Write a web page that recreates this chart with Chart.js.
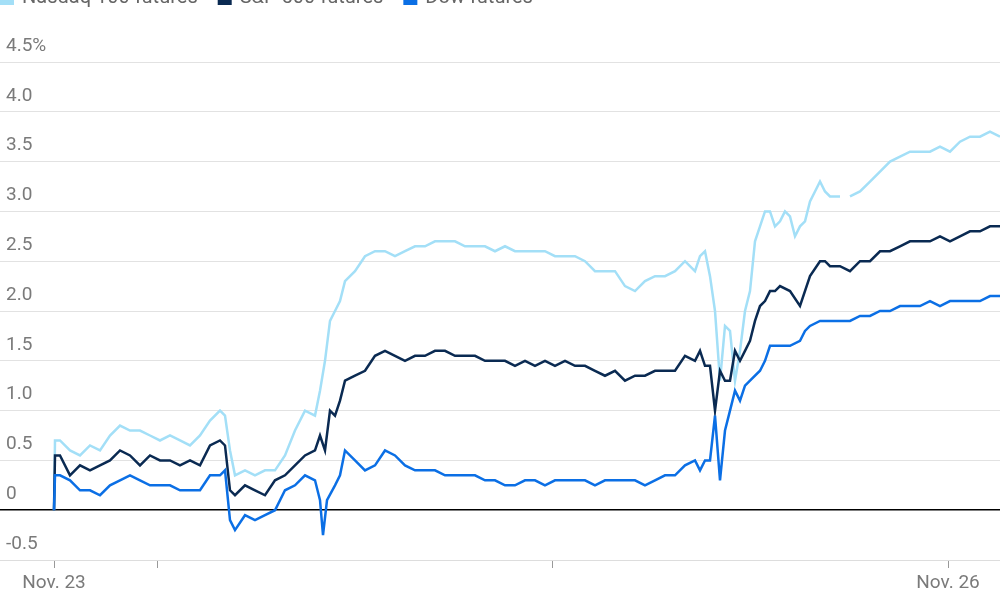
<!DOCTYPE html>
<html><head><meta charset="utf-8">
<script src="https://cdn.jsdelivr.net/npm/chart.js@4"></script>
<style>html,body{margin:0;padding:0;background:#fff}#w{width:1000px;height:600px}</style>
</head><body><div id="w"><canvas id="c"></canvas></div>
<script>
// time index: 0 = Nov. 23 open, 894 = Nov. 26
const xTickValues = [0, 103, 498, 894];
const xTickLabels = ['Nov. 23', '', '', 'Nov. 26'];
const yTickValues = [-0.5,0,0.5,1,1.5,2,2.5,3,3.5,4,4.5];
const seriesNames = ['Nasdaq 100 futures','S&P 500 futures','Dow futures'];

const nasdaqT = [0,1,6,16,26,36,46,56,66,76,86,96,106,116,126,136,146,156,166,171,176,181,191,201,211,221,231,241,251,261,266,271,276,281,286,291,301,311,321,331,341,351,361,371,381,391,401,411,421,431,441,451,461,471,481,491,501,511,521,531,541,551,561,571,581,591,601,611,621,631,641,646,651,656,661,666,671,676,681,686,691,696,701,706,711,716,721,726,731,736,741,746,751,756,761,766,771,776,786,790,796,806,816,826,836,846,856,866,876,886,896,906,916,926,936,946];
const nasdaqV = [0,0.7,0.7,0.6,0.55,0.65,0.6,0.75,0.85,0.8,0.8,0.75,0.7,0.75,0.7,0.65,0.75,0.9,1.0,0.95,0.6,0.35,0.4,0.35,0.4,0.4,0.55,0.8,1.0,0.95,1.2,1.5,1.9,2.0,2.1,2.3,2.4,2.55,2.6,2.6,2.55,2.6,2.65,2.65,2.7,2.7,2.7,2.65,2.65,2.65,2.6,2.65,2.6,2.6,2.6,2.6,2.55,2.55,2.55,2.5,2.4,2.4,2.4,2.25,2.2,2.3,2.35,2.35,2.4,2.5,2.4,2.55,2.6,2.35,2.0,1.3,1.85,1.8,1.3,1.6,2.0,2.2,2.7,2.85,3.0,3.0,2.85,2.9,3.0,2.95,2.75,2.85,2.9,3.1,3.2,3.3,3.2,3.15,3.15,null,3.15,3.2,3.3,3.4,3.5,3.55,3.6,3.6,3.6,3.65,3.6,3.7,3.75,3.75,3.8,3.75];

const spT = [0,1,6,16,26,36,46,56,66,76,86,96,106,116,126,136,146,156,166,171,176,181,191,201,211,221,231,241,251,261,266,271,276,281,286,291,301,311,321,331,341,351,361,371,381,391,401,411,421,431,441,451,461,471,481,491,501,511,521,531,541,551,561,571,581,591,601,611,621,631,641,646,651,656,661,666,671,676,681,686,691,696,701,706,711,716,721,726,736,746,756,766,771,776,786,796,806,816,826,836,846,856,866,876,886,896,906,916,926,936,946];
const spV = [0,0.55,0.55,0.35,0.45,0.4,0.45,0.5,0.6,0.55,0.45,0.55,0.5,0.5,0.45,0.5,0.45,0.65,0.7,0.65,0.2,0.15,0.25,0.2,0.15,0.3,0.35,0.45,0.55,0.6,0.75,0.6,1.0,0.95,1.1,1.3,1.35,1.4,1.55,1.6,1.55,1.5,1.55,1.55,1.6,1.6,1.55,1.55,1.55,1.5,1.5,1.5,1.45,1.5,1.45,1.5,1.45,1.5,1.45,1.45,1.4,1.35,1.4,1.3,1.35,1.35,1.4,1.4,1.4,1.55,1.5,1.6,1.45,1.45,1.0,1.4,1.3,1.3,1.6,1.5,1.6,1.7,1.9,2.05,2.1,2.2,2.2,2.25,2.2,2.05,2.35,2.5,2.5,2.45,2.45,2.4,2.5,2.5,2.6,2.6,2.65,2.7,2.7,2.7,2.75,2.7,2.75,2.8,2.8,2.85,2.85];

const dowT = [0,1,6,16,26,36,46,56,66,76,86,96,106,116,126,136,146,156,166,171,176,181,191,201,211,221,231,241,251,261,266,269,273,281,286,291,301,311,321,331,341,351,361,371,381,391,401,411,421,431,441,451,461,471,481,491,501,511,521,531,541,551,561,571,581,591,601,611,621,631,641,646,651,656,661,666,671,676,681,686,691,696,706,711,716,726,736,746,751,756,766,776,786,796,806,816,826,836,846,856,866,876,886,896,906,916,926,936,946];
const dowV = [0,0.35,0.35,0.3,0.2,0.2,0.15,0.25,0.3,0.35,0.3,0.25,0.25,0.25,0.2,0.2,0.2,0.35,0.35,0.4,-0.1,-0.2,-0.05,-0.1,-0.05,0.0,0.2,0.25,0.35,0.3,0.1,-0.25,0.1,0.25,0.35,0.6,0.5,0.4,0.45,0.6,0.55,0.45,0.4,0.4,0.4,0.35,0.35,0.35,0.35,0.3,0.3,0.25,0.25,0.3,0.3,0.25,0.3,0.3,0.3,0.3,0.25,0.3,0.3,0.3,0.3,0.25,0.3,0.35,0.35,0.45,0.5,0.4,0.5,0.5,0.95,0.3,0.8,1.0,1.2,1.1,1.25,1.3,1.4,1.5,1.65,1.65,1.65,1.7,1.8,1.85,1.9,1.9,1.9,1.9,1.95,1.95,2.0,2.0,2.05,2.05,2.05,2.1,2.05,2.1,2.1,2.1,2.1,2.15,2.15];

const colors = ['#a3dff7','#0a2a52','#0b6fe5'];
const pts = (t,v)=>t.map((x,i)=>({x, y:v[i]}));

const legendPlugin = {
  id:'topLegend',
  afterDraw(chart){
    const ctx = chart.ctx; ctx.save();
    ctx.font = '20px Roboto'; ctx.textBaseline = 'middle';
    let x = 0; const y = -2;
    seriesNames.forEach((n,i)=>{
      ctx.fillStyle = colors[i]; ctx.fillRect(x, y-7, 14, 14);
      ctx.fillStyle = '#666'; ctx.fillText(n, x+22, y);
      x += 22 + ctx.measureText(n).width + 20;
    });
    ctx.restore();
  }
};

new Chart(document.getElementById('c'), {
  type:'line',
  data:{datasets:[
    {label:seriesNames[0], data:pts(nasdaqT,nasdaqV), borderColor:colors[0]},
    {label:seriesNames[1], data:pts(spT,spV), borderColor:colors[1]},
    {label:seriesNames[2], data:pts(dowT,dowV), borderColor:colors[2]}
  ].reverse()},
  options:{
    responsive:true, maintainAspectRatio:false, animation:false,
    layout:{padding:{top:62,left:0,right:0,bottom:0}},
    elements:{point:{radius:0}, line:{borderWidth:2.5, tension:0}},
    spanGaps:false,
    plugins:{legend:{display:false}, tooltip:{enabled:false}},
    scales:{
      x:{type:'linear', min:-54, max:946,
        afterBuildTicks(s){ s.ticks = xTickValues.map(v=>({value:v})); },
        afterFit(s){ s.height = 40; },
        ticks:{callback:(v)=>xTickLabels[xTickValues.indexOf(v)] ?? '', color:'#7a7a7a', font:{family:'Roboto', size:19}, padding:4, maxRotation:0, autoSkip:false},
        grid:{drawOnChartArea:false, tickLength:8, color:'#999'},
        border:{color:'#ddd'}
      },
      y:{min:-0.5, max:4.5,
        afterBuildTicks(s){ s.ticks = yTickValues.map(v=>({value:v})); },
        afterFit(s){ s.width = 0; },
        ticks:{mirror:true, padding:6, labelOffset:-16, color:'#7a7a7a', font:{family:'Roboto', size:19},
          callback:(v)=> v===4.5 ? '4.5%' : (v===0 ? '0' : v.toFixed(1))},
        grid:{color:(c)=> c.tick && c.tick.value===0 ? '#000' : '#e2e2e2', lineWidth:(c)=> c.tick && c.tick.value===0 ? 1.5 : 1, drawTicks:false},
        border:{display:false}
      }
    }
  },
  plugins:[legendPlugin]
});
</script></body></html>
